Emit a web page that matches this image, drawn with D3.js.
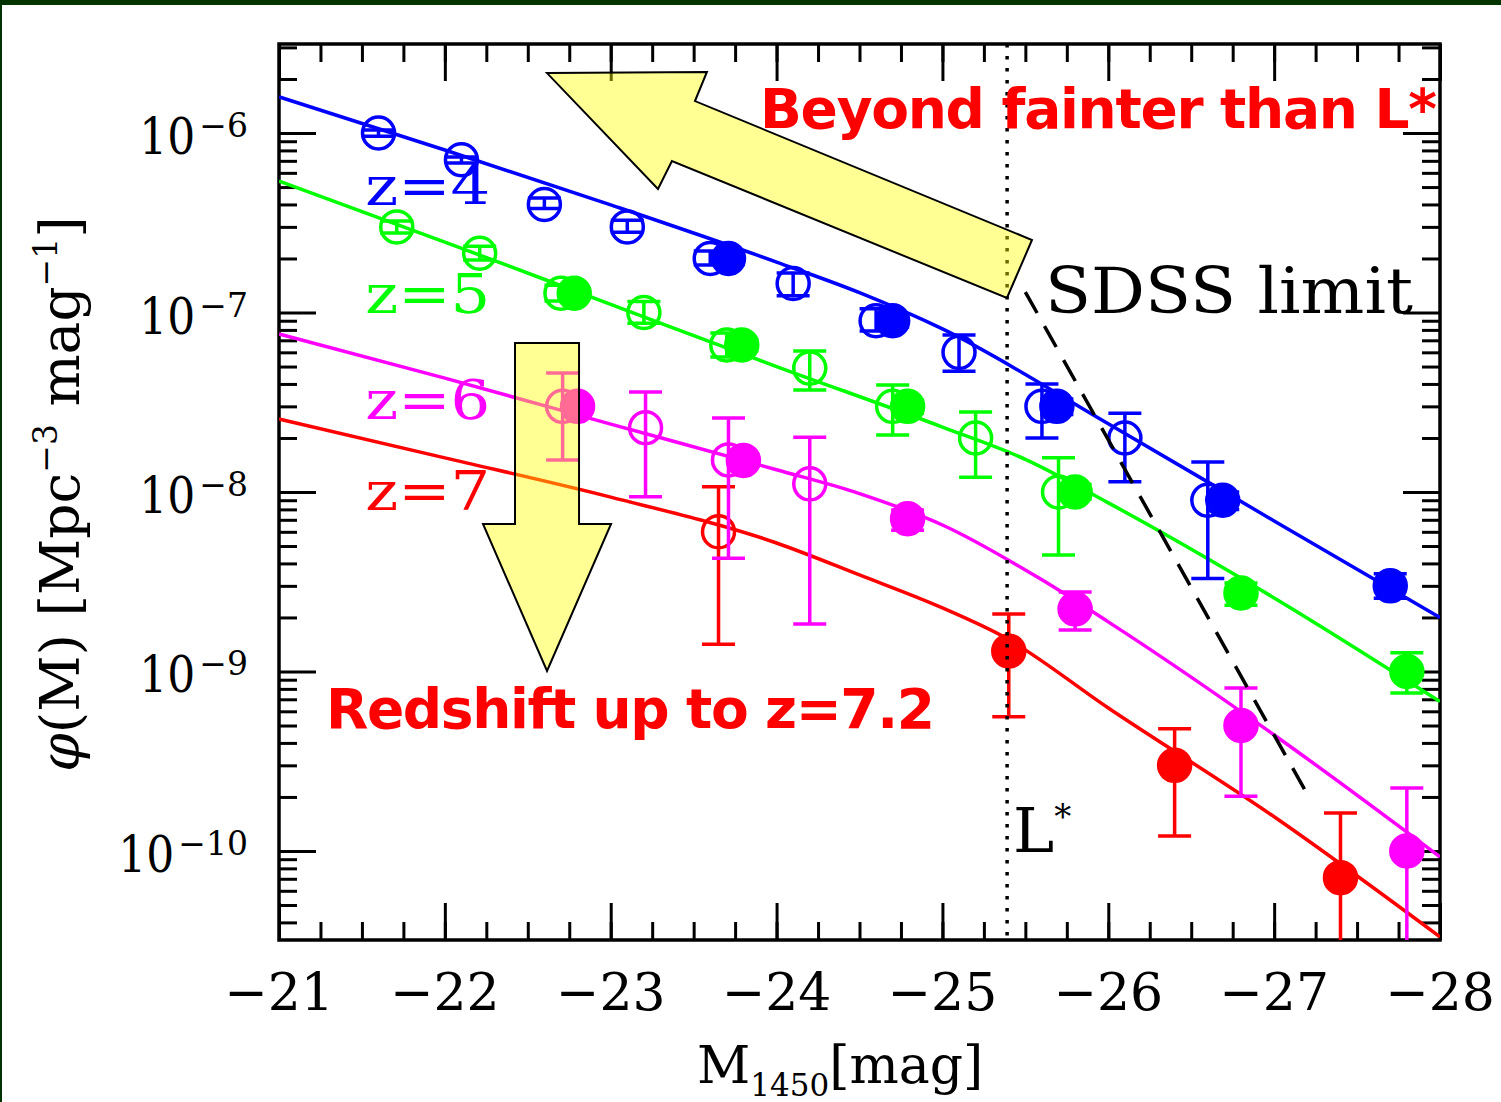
<!DOCTYPE html>
<html>
<head>
<meta charset="utf-8">
<script src="https://cdn.jsdelivr.net/npm/d3@7"></script>
<style>
  html, body { margin: 0; padding: 0; background: #fff; }
  svg { display: block; }
</style>
</head>
<body>
<div id="chart"></div>
<script>
// ---- data ----
// tick labels
const xTicks = [-21, -22, -23, -24, -25, -26, -27, -28];
const yExps = [-6, -7, -8, -9, -10];

// points: [M1450, phi, phiUpper, phiLower]
const z4Open = [
  [-21.60, 1.0e-6, 1.04e-6, 9.6e-7],
  [-22.10, 7.1e-7, 7.35e-7, 6.8e-7],
  [-22.60, 4.0e-7, 4.35e-7, 3.8e-7],
  [-23.10, 3.0e-7, 3.27e-7, 2.8e-7],
  [-23.60, 2.0e-7, 2.2e-7, 1.84e-7],
  [-24.10, 1.45e-7, 1.66e-7, 1.24e-7],
  [-24.60, 9.0e-8, 1.05e-7, 7.9e-8],
  [-25.10, 6.0e-8, 7.5e-8, 4.7e-8],
  [-25.60, 3.0e-8, 4.0e-8, 2.0e-8],
  [-26.10, 2.0e-8, 2.75e-8, 1.14e-8],
  [-26.60, 9.0e-9, 1.47e-8, 3.3e-9]
];
const z4Filled = [
  [-23.71, 2.0e-7, 2.15e-7, 1.85e-7],
  [-24.70, 9.0e-8, 9.7e-8, 8.3e-8],
  [-25.69, 3.0e-8, 3.3e-8, 2.7e-8],
  [-26.69, 9.0e-9, 1.0e-8, 8.0e-9],
  [-27.70, 3.0e-9, 3.5e-9, 2.56e-9]
];
const z5Open = [
  [-21.71, 3.0e-7, 3.24e-7, 2.77e-7],
  [-22.21, 2.14e-7, 2.34e-7, 1.96e-7],
  [-22.70, 1.28e-7, 1.42e-7, 1.16e-7],
  [-23.20, 1.0e-7, 1.15e-7, 8.7e-8],
  [-23.70, 6.6e-8, 7.7e-8, 5.65e-8],
  [-24.20, 4.9e-8, 6.1e-8, 3.7e-8],
  [-24.70, 3.0e-8, 3.95e-8, 2.08e-8],
  [-25.20, 2.0e-8, 2.79e-8, 1.21e-8],
  [-25.70, 1.0e-8, 1.55e-8, 4.45e-9]
];
const z5Filled = [
  [-22.78, 1.28e-7, 1.36e-7, 1.2e-7],
  [-23.79, 6.6e-8, 7.1e-8, 6.1e-8],
  [-24.79, 3.0e-8, 3.25e-8, 2.75e-8],
  [-25.80, 1.0e-8, 1.1e-8, 9.1e-9],
  [-26.80, 2.74e-9, 3.11e-9, 2.34e-9],
  [-27.80, 1.0e-9, 1.27e-9, 7.6e-10]
];
const z6Open = [
  [-22.71, 3.0e-8, 4.6e-8, 1.51e-8],
  [-23.21, 2.28e-8, 3.61e-8, 9.4e-9],
  [-23.71, 1.51e-8, 2.58e-8, 4.28e-9],
  [-24.20, 1.11e-8, 2.02e-8, 1.84e-9]
];
const z6Filled = [
  [-22.80, 3.0e-8, 3.2e-8, 2.8e-8],
  [-23.80, 1.5e-8, 1.6e-8, 1.4e-8],
  [-24.79, 7.1e-9, 7.94e-9, 6.13e-9],
  [-25.80, 2.23e-9, 2.77e-9, 1.7e-9],
  [-26.80, 5.0e-10, 8.1e-10, 2.02e-10],
  [-27.80, 1.0e-10, 2.24e-10, 1.0e-11]
];
const z7Open = [
  [-23.65, 6.0e-9, 1.07e-8, 1.42e-9]
];
const z7Filled = [
  [-25.40, 1.3e-9, 2.09e-9, 5.6e-10],
  [-26.40, 3.0e-10, 4.8e-10, 1.21e-10],
  [-27.40, 7.1e-11, 1.63e-10, 1.0e-11]
];

// fitted luminosity functions: [M1450, phi]
const fit4 = [[-21, 1.59e-6], [-22, 8.04e-7], [-23, 3.98e-7], [-24, 1.91e-7], [-24.5, 1.29e-7],
  [-25, 8.1e-8], [-26, 2.4e-8], [-27, 6.9e-9], [-28, 2.0e-9]];
const fit5 = [[-21, 5.4e-7], [-22, 2.47e-7], [-23, 1.11e-7], [-24, 5.0e-8], [-25, 2.3e-8],
  [-25.5, 1.52e-8], [-26, 8.7e-9], [-27, 2.57e-9], [-28, 6.8e-10]];
const fit6 = [[-21, 7.59e-8], [-22, 4.31e-8], [-23, 2.39e-8], [-24, 1.33e-8], [-24.5, 9.8e-9],
  [-25, 6.55e-9], [-25.6, 3.24e-9], [-26, 1.89e-9], [-27, 4.43e-10], [-28, 9.27e-11]];
const fit7 = [[-21, 2.55e-8], [-22, 1.55e-8], [-23, 9.37e-9], [-24, 5.2e-9], [-24.5, 3.45e-9],
  [-25, 2.26e-9], [-25.37, 1.56e-9], [-26, 6.26e-10], [-27, 1.55e-10], [-28, 3.32e-11]];

const sdssLimit = [[-25.50, 1.30e-7], [-27.22, 1.92e-10]];
const lStar = -25.39;

// annotation arrows: [M1450, log10 phi]
const arrowUp = [[-22.616, -5.666], [-23.580, -5.660], [-23.508, -5.822], [-25.540, -6.596],
  [-25.389, -6.919], [-23.369, -6.156], [-23.285, -6.312]];
const arrowDown = [[-22.423, -7.170], [-22.809, -7.170], [-22.809, -8.178], [-23.002, -8.178],
  [-22.616, -8.997], [-22.230, -8.178], [-22.423, -8.178]];

// ---- chart ----
const width = 1501;
const height = 1102;
const x = d3.scaleLinear().domain([-21, -28]).range([279, 1440]);
const y = d3.scaleLog().domain([10 ** -10.496, 10 ** -5.504]).range([940, 44]);

const svg = d3.select('#chart').append('svg')
  .attr('width', width)
  .attr('height', height)
  .attr('font-family', "'DejaVu Serif', serif");

svg.append('rect').attr('width', width).attr('height', height).attr('fill', '#fff');
svg.append('rect').attr('width', width).attr('height', 5).attr('fill', '#003300');
svg.append('rect').attr('width', 2).attr('height', height).attr('fill', '#003300');

svg.append('clipPath').attr('id', 'plot')
  .append('rect')
  .attr('x', 279).attr('y', 44)
  .attr('width', 1161).attr('height', 896);

// ticks
const minorX = d3.range(-21, -28.001, -0.25);
const minorY = [];
for (let e = -11; e <= -5; e++) {
  for (let k = 2; k <= 9; k++) {
    const v = k * 10 ** e;
    if (v > y.domain()[0] && v < y.domain()[1]) minorY.push(v);
  }
}
const majorY = yExps.map((e) => 10 ** e);

function tickAxis(axis, tx, ty) {
  const g = svg.append('g')
    .attr('transform', `translate(${tx},${ty})`)
    .call(axis);
  g.select('.domain').remove();
  g.selectAll('.tick line').attr('stroke', '#000').attr('stroke-width', 3);
  return g;
}
tickAxis(d3.axisBottom(x).tickValues(minorX).tickSize(-18).tickFormat(''), 0, 940);
tickAxis(d3.axisBottom(x).tickValues(xTicks).tickSize(-37).tickFormat(''), 0, 940);
tickAxis(d3.axisTop(x).tickValues(minorX).tickSize(-18).tickFormat(''), 0, 44);
tickAxis(d3.axisTop(x).tickValues(xTicks).tickSize(-37).tickFormat(''), 0, 44);
tickAxis(d3.axisLeft(y).tickValues(minorY).tickSize(-18).tickFormat(''), 279, 0);
tickAxis(d3.axisLeft(y).tickValues(majorY).tickSize(-37).tickFormat(''), 279, 0);
tickAxis(d3.axisRight(y).tickValues(minorY).tickSize(-18).tickFormat(''), 1440, 0);
tickAxis(d3.axisRight(y).tickValues(majorY).tickSize(-37).tickFormat(''), 1440, 0);

svg.append('rect')
  .attr('x', 279).attr('y', 44)
  .attr('width', 1161).attr('height', 896)
  .attr('fill', 'none')
  .attr('stroke', '#000')
  .attr('stroke-width', 3.5);

// tick labels
svg.append('g')
  .selectAll('text')
  .data(xTicks)
  .join('text')
  .attr('x', (d) => x(d))
  .attr('y', 1010)
  .attr('text-anchor', 'middle')
  .attr('font-size', 52)
  .text((d) => `\u2212${Math.abs(d)}`);

const yLab = svg.append('g')
  .selectAll('text')
  .data(yExps)
  .join('text')
  .attr('x', 248)
  .attr('y', (d) => y(10 ** d) + 21)
  .attr('text-anchor', 'end');
yLab.append('tspan')
  .attr('font-size', 50)
  .attr('textLength', 56)
  .attr('lengthAdjust', 'spacingAndGlyphs')
  .text('10');
yLab.append('tspan')
  .attr('dx', 4)
  .attr('dy', -17)
  .attr('font-size', 33)
  .text((d) => `\u2212${Math.abs(d)}`);

// axis titles
const xt = svg.append('text')
  .attr('x', 697)
  .attr('y', 1083)
  .attr('font-size', 52);
xt.append('tspan').text('M');
xt.append('tspan').attr('font-size', 31).attr('dy', 13).text('1450');
xt.append('tspan').attr('dy', -13).text('[mag]');

const yt = svg.append('text')
  .attr('transform', 'translate(79,494) rotate(-90)')
  .attr('text-anchor', 'middle')
  .attr('font-size', 55);
yt.append('tspan').attr('font-style', 'italic').text('\u03c6');
yt.append('tspan').text('(M)  [Mpc');
yt.append('tspan').attr('font-size', 33).attr('dy', -22).text('\u22123');
yt.append('tspan').attr('dy', 22).text('  mag');
yt.append('tspan').attr('font-size', 33).attr('dy', -22).text('\u22121');
yt.append('tspan').attr('dy', 22).text(']');

// data
const plot = svg.append('g').attr('clip-path', 'url(#plot)');

const series = [
  { name: 'z=7', color: '#ff0000', fit: fit7, open: z7Open, filled: z7Filled, labelAt: [-21.52, 10 ** -8.10] },
  { name: 'z=6', color: '#ff00ff', fit: fit6, open: z6Open, filled: z6Filled, labelAt: [-21.52, 10 ** -7.593] },
  { name: 'z=5', color: '#00ff00', fit: fit5, open: z5Open, filled: z5Filled, labelAt: [-21.52, 10 ** -7.003] },
  { name: 'z=4', color: '#0000ff', fit: fit4, open: z4Open, filled: z4Filled, labelAt: [-21.52, 10 ** -6.401] }
];

const fitLine = d3.line()
  .x((d) => x(d[0]))
  .y((d) => y(d[1]))
  .curve(d3.curveMonotoneX);

function drawPoints(g, pts, color, filled) {
  const p = g.append('g')
    .attr('stroke', color)
    .attr('stroke-width', 3.5)
    .selectAll('g')
    .data(pts)
    .join('g');
  p.append('line')
    .attr('x1', (d) => x(d[0]))
    .attr('x2', (d) => x(d[0]))
    .attr('y1', (d) => y(d[2]))
    .attr('y2', (d) => y(d[3]));
  [2, 3].forEach((i) => {
    p.append('line')
      .attr('x1', (d) => x(d[0]) - 16.5)
      .attr('x2', (d) => x(d[0]) + 16.5)
      .attr('y1', (d) => y(d[i]))
      .attr('y2', (d) => y(d[i]));
  });
  p.append('circle')
    .attr('cx', (d) => x(d[0]))
    .attr('cy', (d) => y(d[1]))
    .attr('r', 16)
    .attr('fill', filled ? color : 'none');
}

series.forEach((s) => {
  const g = plot.append('g');
  g.append('path')
    .datum(s.fit)
    .attr('d', fitLine)
    .attr('fill', 'none')
    .attr('stroke', s.color)
    .attr('stroke-width', 3.5);
  drawPoints(g, s.open, s.color, false);
  drawPoints(g, s.filled, s.color, true);
});

// limits
plot.append('path')
  .datum(sdssLimit)
  .attr('d', d3.line().x((d) => x(d[0])).y((d) => y(d[1])))
  .attr('stroke', '#000')
  .attr('stroke-width', 3.5)
  .attr('stroke-dasharray', '24,15');

plot.append('line')
  .attr('x1', x(lStar)).attr('x2', x(lStar))
  .attr('y1', 44).attr('y2', 940)
  .attr('stroke', '#000')
  .attr('stroke-width', 3.5)
  .attr('stroke-dasharray', '3.5,8.5');

// series labels
svg.append('g')
  .selectAll('text')
  .data(series)
  .join('text')
  .attr('x', (d) => x(d.labelAt[0]))
  .attr('y', (d) => y(d.labelAt[1]))
  .attr('fill', (d) => d.color)
  .attr('font-size', 54)
  .attr('textLength', 125)
  .attr('lengthAdjust', 'spacingAndGlyphs')
  .text((d) => d.name);

svg.append('text')
  .attr('x', 1045)
  .attr('y', 313)
  .attr('font-size', 64)
  .attr('textLength', 368)
  .attr('lengthAdjust', 'spacingAndGlyphs')
  .text('SDSS  limit');

const ls = svg.append('text')
  .attr('x', x(lStar) + 6)
  .attr('y', 852)
  .attr('font-size', 62);
ls.append('tspan').text('L');
ls.append('tspan').attr('font-size', 34).attr('dy', -24).text('*');

// arrows
const arrowPath = d3.line().x((d) => x(d[0])).y((d) => y(10 ** d[1]));
[arrowUp, arrowDown].forEach((a) => {
  svg.append('path')
    .attr('d', `${arrowPath(a)}Z`)
    .attr('fill', '#ffff00')
    .attr('fill-opacity', 0.42)
    .attr('stroke', '#000')
    .attr('stroke-width', 2)
    .attr('stroke-linejoin', 'miter');
});

// red notes
svg.append('text')
  .attr('x', 760)
  .attr('y', 128)
  .attr('font-family', "'DejaVu Sans', sans-serif")
  .attr('font-weight', 'bold')
  .attr('font-size', 55)
  .attr('fill', '#ff0000')
  .attr('textLength', 677)
  .text('Beyond fainter than L*');

svg.append('text')
  .attr('x', 326)
  .attr('y', 728)
  .attr('font-family', "'DejaVu Sans', sans-serif")
  .attr('font-weight', 'bold')
  .attr('font-size', 55)
  .attr('fill', '#ff0000')
  .attr('textLength', 609)
  .text('Redshift up to z=7.2');
</script>
</body>
</html>
